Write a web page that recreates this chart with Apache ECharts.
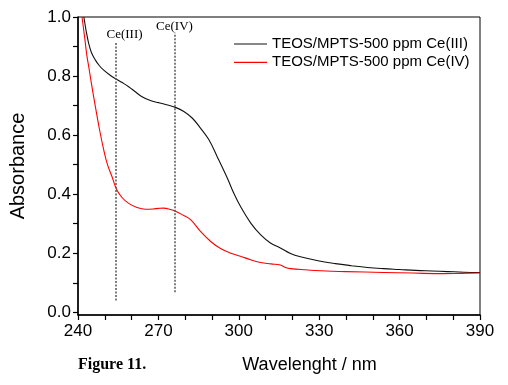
<!DOCTYPE html>
<html>
<head>
<meta charset="utf-8">
<script src="https://cdn.jsdelivr.net/npm/echarts@6/dist/echarts.min.js"></script>
<style>
  html, body { margin: 0; padding: 0; background: #fff; }
  #chart { width: 508px; height: 385px; }
</style>
</head>
<body>
<div id="chart"></div>
<script>
// wavelength (nm) / absorbance
var ce3Wl = [242.2, 243, 244, 245, 246.5, 248, 249.6, 252, 253.9, 256.5, 258.9, 261.5, 263.9, 267, 270.1, 273, 276.4, 279.5, 282.6,
  285.7, 288.8, 291.9, 295.7, 298.1, 300.6, 304.4, 308.1, 311.8, 315.5, 319.3, 323, 330, 336, 342, 348, 354, 360, 366, 372, 378, 384, 390]
var ce3Abs = [1.0, 0.955, 0.91, 0.88, 0.854, 0.835, 0.82, 0.803, 0.792, 0.778, 0.764, 0.746, 0.73, 0.717, 0.71, 0.703, 0.694, 0.68, 0.658,
  0.624, 0.585, 0.528, 0.455, 0.404, 0.359, 0.303, 0.263, 0.235, 0.218, 0.199, 0.188, 0.174, 0.165, 0.158, 0.152, 0.148, 0.145, 0.142, 0.14, 0.138, 0.136, 0.135]

var ce4Wl = [241.5, 242.5, 243.3, 244, 245, 246.5, 248, 249.6, 251, 252.7, 254.5, 256.5, 258.9, 262, 265.1, 268, 270.1, 272, 274.5,
  276.4, 279, 282, 285.7, 289.5, 293.2, 297, 300.6, 304.4, 308.1, 312, 315.5, 317.4, 319.3, 325, 330.5, 340, 354, 365, 376, 383, 390]
var ce4Abs = [1.0, 0.93, 0.87, 0.832, 0.775, 0.696, 0.62, 0.55, 0.5, 0.459, 0.414, 0.388, 0.369, 0.355, 0.349, 0.35, 0.352, 0.353, 0.348,
  0.342, 0.33, 0.314, 0.274, 0.24, 0.216, 0.2, 0.19, 0.178, 0.169, 0.164, 0.16, 0.152, 0.148, 0.144, 0.141, 0.138, 0.135, 0.133, 0.131, 0.132, 0.133]

var seriesNames = ['TEOS/MPTS-500 ppm Ce(III)', 'TEOS/MPTS-500 ppm Ce(IV)']

// dotted marker lines
var markerNames = ['Ce(III)', 'Ce(IV)']
var markerWl = [254, 276]
var markerTop = [0.913, 0.947]
var markerBottom = [0.04, 0.068]

var yTicks = [0, 0.1, 0.2, 0.3, 0.4, 0.5, 0.6, 0.7, 0.8, 0.9, 1.0]
var yLabels = [0, 0.2, 0.4, 0.6, 0.8, 1.0]

function pairs (xs, ys) {
  var out = []
  for (var i = 0; i < xs.length; i++) out.push([xs[i], ys[i]])
  return out
}

function markerLine (i) {
  return [
    { coord: [markerWl[i], markerBottom[i]] },
    {
      coord: [markerWl[i], markerTop[i]],
      label: { formatter: markerNames[i], offset: i === 0 ? [9, 0] : [0, 2] }
    }
  ]
}

var chart = echarts.init(document.getElementById('chart'))
chart.setOption({
  animation: false,
  backgroundColor: '#fff',
  grid: { left: 77, right: 28, top: 17, bottom: 70, show: true, borderColor: '#000', borderWidth: 1 },
  legend: {
    orient: 'vertical',
    left: 229,
    top: 31,
    itemWidth: 33,
    itemHeight: 1.2,
    itemGap: 2.3,
    icon: 'rect',
    textStyle: { fontFamily: 'Liberation Sans', fontSize: 15, color: '#000', lineHeight: 16 },
    data: seriesNames
  },
  xAxis: {
    type: 'value',
    min: 240,
    max: 390,
    interval: 10,
    name: 'Wavelenght / nm',
    nameLocation: 'middle',
    nameGap: 41,
    nameTextStyle: { fontFamily: 'Liberation Sans', fontSize: 18, color: '#000', padding: [0, 0, 0, 61] },
    splitLine: { show: false },
    axisLine: { onZero: false, lineStyle: { color: '#000', width: 1.5 } },
    axisTick: { length: 5, lineStyle: { color: '#000', width: 1.2 } },
    axisLabel: {
      margin: 8,
      fontFamily: 'Liberation Sans',
      fontSize: 17,
      color: '#000',
      formatter: function (v) { return (v - 240) % 30 === 0 ? String(v) : '' }
    }
  },
  yAxis: {
    type: 'value',
    min: -0.009,
    max: 1.0,
    name: 'Absorbance',
    nameLocation: 'middle',
    nameGap: 50,
    nameTextStyle: { fontFamily: 'Liberation Sans', fontSize: 20, color: '#000' },
    splitLine: { show: false },
    axisLine: { lineStyle: { color: '#000', width: 1.5 } },
    axisTick: { length: 5, customValues: yTicks, lineStyle: { color: '#000', width: 1.2 } },
    axisLabel: {
      margin: 7,
      customValues: yLabels,
      fontFamily: 'Liberation Sans',
      fontSize: 17,
      color: '#000',
      formatter: function (v) { return v.toFixed(1) }
    }
  },
  graphic: [{
    type: 'text',
    left: 78,
    top: 357,
    style: {
      text: 'Figure 11.',
      font: 'bold 16px "Liberation Serif"',
      fill: '#000'
    }
  }],
  series: [
    {
      name: seriesNames[0],
      type: 'line',
      data: pairs(ce3Wl, ce3Abs),
      showSymbol: false,
      symbol: 'none',
      smooth: 0.4,
      lineStyle: { color: '#111', width: 1.1 },
      itemStyle: { color: '#111' },
      markLine: {
        silent: true,
        symbol: 'none',
        lineStyle: { color: '#555', width: 1.5, type: [2, 1.5] },
        label: {
          position: 'end',
          distance: 2,
          fontFamily: 'Liberation Serif',
          fontSize: 13,
          color: '#000'
        },
        data: [markerLine(0), markerLine(1)]
      }
    },
    {
      name: seriesNames[1],
      type: 'line',
      data: pairs(ce4Wl, ce4Abs),
      showSymbol: false,
      symbol: 'none',
      smooth: 0.4,
      lineStyle: { color: '#ff0000', width: 1.1 },
      itemStyle: { color: '#ff0000' }
    }
  ]
})
</script>
</body>
</html>
